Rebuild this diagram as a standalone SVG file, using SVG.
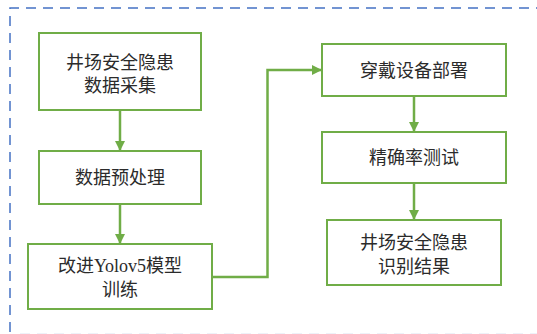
<svg xmlns="http://www.w3.org/2000/svg" width="537" height="334" viewBox="0 0 537 334">
<style>
.box{fill:#fff;stroke:#70AD47;stroke-width:2}
.t{font-family:"Liberation Serif","Noto Sans CJK SC",serif;font-size:18px;fill:#2b2b2b;text-anchor:middle}
.c{fill:none;stroke:#70AD47;stroke-width:2.5}
.border{fill:none;stroke:#4472C4;stroke-width:1.5;stroke-dasharray:10 7}
</style>
<defs>
<marker id="ah" viewBox="0 0 10 10" refX="9" refY="5" markerWidth="4" markerHeight="4" orient="auto" markerUnits="strokeWidth">
<path d="M0,0 L10,5 L0,10 Z" fill="#70AD47"/>
</marker>
</defs>
<g id="frame">
<path class="border" d="M10,332 L10,8 L537,8"/>
<path d="M20,333.5 L537,333.5" fill="none" stroke="#eef1f8" stroke-width="1" stroke-dasharray="10 7"/>
</g>
<g id="connectors">
<line class="c" x1="120" y1="111" x2="120" y2="150" marker-end="url(#ah)"/>
<line class="c" x1="120" y1="205" x2="120" y2="243" marker-end="url(#ah)"/>
<polyline class="c" points="212,277 267.5,277 267.5,70 321,70" marker-end="url(#ah)"/>
<line class="c" x1="414" y1="97" x2="414" y2="131" marker-end="url(#ah)"/>
<line class="c" x1="414" y1="184" x2="414" y2="219" marker-end="url(#ah)"/>
</g>
<g id="n1">
<rect class="box" x="39" y="33" width="162" height="77"/>
<text class="t" x="120" y="69">井场安全隐患</text>
<text class="t" x="120" y="92">数据采集</text>
</g>
<g id="n2">
<rect class="box" x="39" y="151" width="162" height="53"/>
<text class="t" x="120" y="184">数据预处理</text>
</g>
<g id="n3">
<rect class="box" x="28" y="244" width="184" height="65"/>
<text class="t" x="120" y="272">改进Yolov5模型</text>
<text class="t" x="120" y="296">训练</text>
</g>
<g id="n4">
<rect class="box" x="322" y="44" width="184" height="52"/>
<text class="t" x="414" y="77">穿戴设备部署</text>
</g>
<g id="n5">
<rect class="box" x="322" y="132" width="184" height="51"/>
<text class="t" x="414" y="164">精确率测试</text>
</g>
<g id="n6">
<rect class="box" x="327" y="220" width="174" height="65"/>
<text class="t" x="414" y="249">井场安全隐患</text>
<text class="t" x="414" y="273">识别结果</text>
</g>
</svg>
